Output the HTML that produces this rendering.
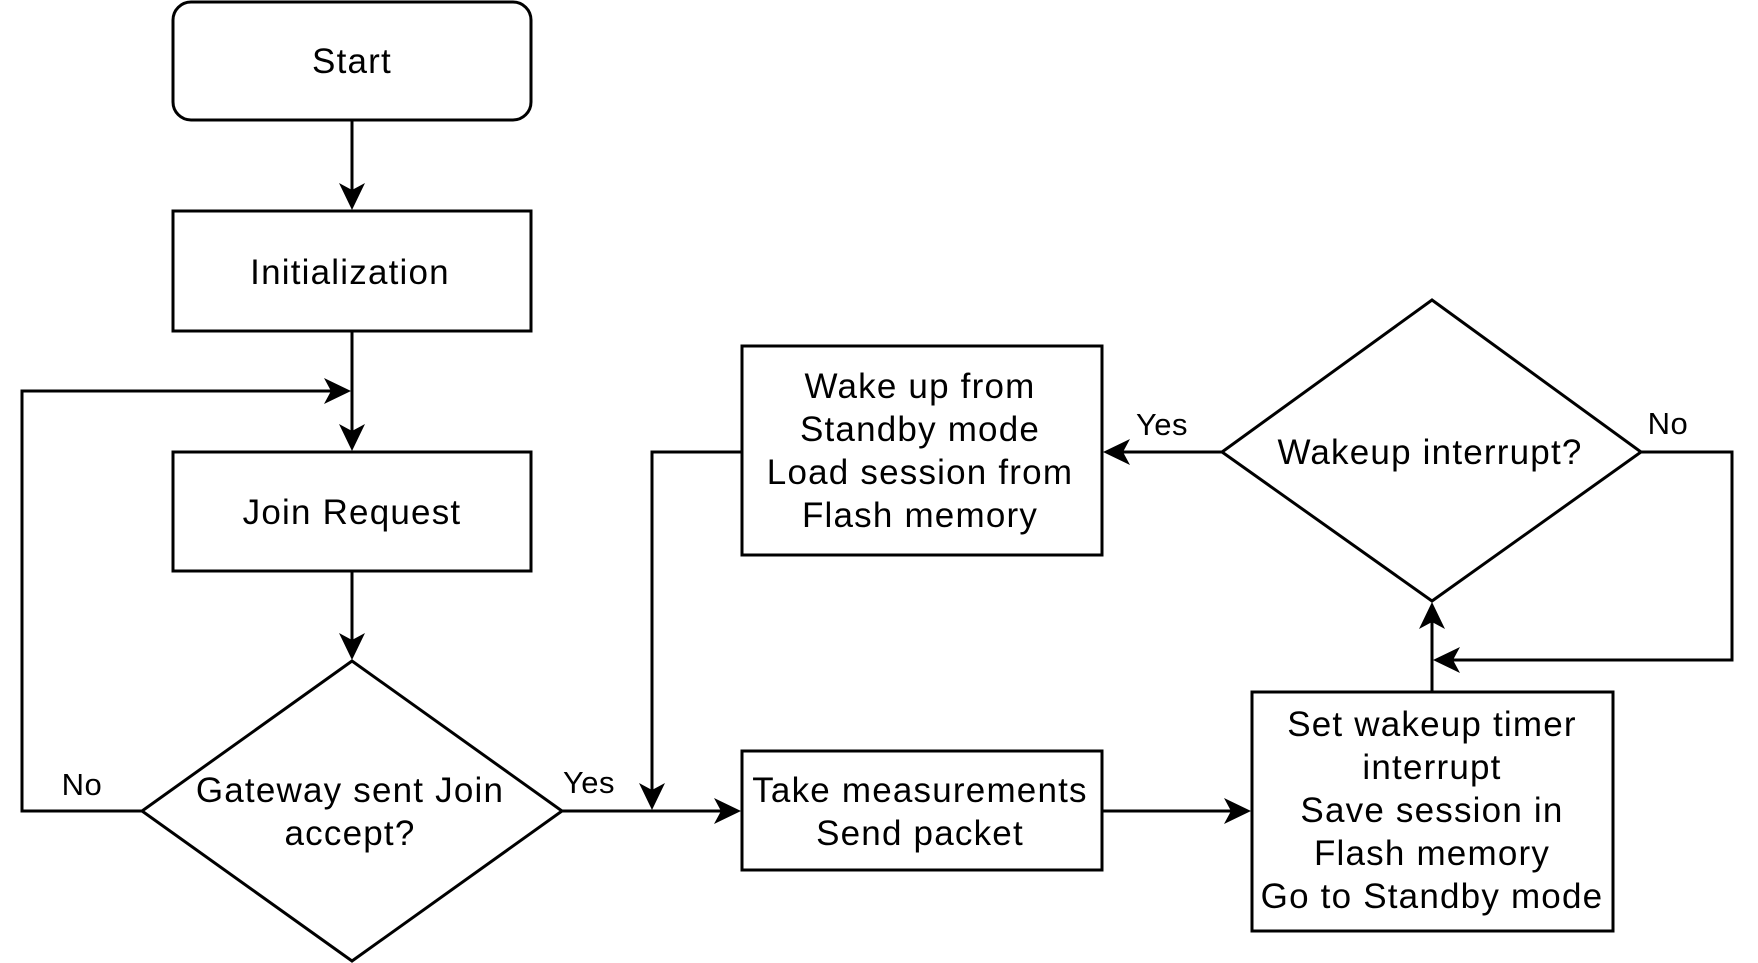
<!DOCTYPE html>
<html><head><style>html,body{margin:0;padding:0;background:#fff}svg{display:block}</style></head>
<body>
<svg width="1758" height="963" viewBox="0 0 1758 963" xmlns="http://www.w3.org/2000/svg">
<g fill="none" stroke="#000" stroke-width="3">
<rect x="173" y="2" width="358" height="118" rx="18"/>
<rect x="173" y="211" width="358" height="120"/>
<rect x="173" y="452" width="358" height="119"/>
<polygon points="352,661 562,811 352,961 142,811"/>
<rect x="742" y="346" width="360" height="209"/>
<rect x="742" y="751" width="360" height="119"/>
<polygon points="1432,300 1641,452 1432,601 1222,452"/>
<rect x="1252" y="692" width="361" height="239"/>
<path d="M352 120 V205"/>
<path d="M352 331 V446"/>
<path d="M352 571 V655"/>
<path d="M142 811 H22 V391 H346"/>
<path d="M562 811 H736"/>
<path d="M742 452 H652 V805"/>
<path d="M1102 811 H1246"/>
<path d="M1222 452 H1108"/>
<path d="M1641 452 H1732 V660 H1438"/>
<path d="M1432 692 V607"/>
</g>
<g fill="#000">
<path d="M352 210 L339 183 L352 190 L365 183 Z"/>
<path d="M352 451 L339 424 L352 431 L365 424 Z"/>
<path d="M352 660 L339 633 L352 640 L365 633 Z"/>
<path d="M652 810 L639 783 L652 790 L665 783 Z"/>
<path d="M351 391 L324 378 L331 391 L324 404 Z"/>
<path d="M741 811 L714 798 L721 811 L714 824 Z"/>
<path d="M1251 811 L1224 798 L1231 811 L1224 824 Z"/>
<path d="M1103 452 L1130 439 L1123 452 L1130 465 Z"/>
<path d="M1433 660 L1460 647 L1453 660 L1460 673 Z"/>
<path d="M1432 602 L1419 629 L1432 622 L1445 629 Z"/>
</g>
<g font-family="Liberation Sans, sans-serif" font-size="35" letter-spacing="1.2" text-anchor="middle" fill="#000">
<text x="352" y="73">Start</text>
<text x="350" y="284">Initialization</text>
<text x="352" y="524">Join Request</text>
<text x="350" y="802">Gateway sent Join</text>
<text x="350" y="845">accept?</text>
<text x="920" y="398">Wake up from</text>
<text x="920" y="441">Standby mode</text>
<text x="920" y="484">Load session from</text>
<text x="920" y="527">Flash memory</text>
<text x="920" y="802">Take measurements</text>
<text x="920" y="845">Send packet</text>
<text x="1430" y="464">Wakeup interrupt?</text>
<text x="1432" y="736">Set wakeup timer</text>
<text x="1432" y="779">interrupt</text>
<text x="1432" y="822">Save session in</text>
<text x="1432" y="865">Flash memory</text>
<text x="1432" y="908">Go to Standby mode</text>
</g>
<g font-family="Liberation Sans, sans-serif" font-size="31" letter-spacing="0.5" text-anchor="middle" fill="#000">
<text x="82" y="795">No</text>
<text x="589" y="793">Yes</text>
<text x="1162" y="435">Yes</text>
<text x="1668" y="434">No</text>
</g>
</svg>
</body></html>
